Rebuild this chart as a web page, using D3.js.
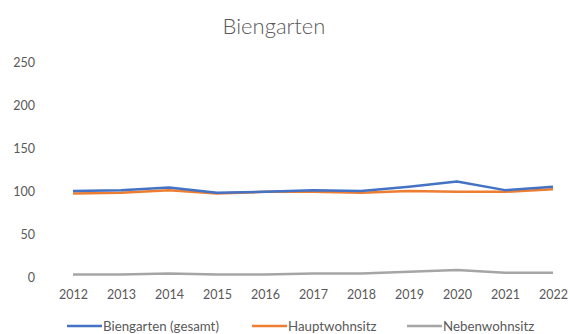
<!DOCTYPE html>
<html>
<head>
<meta charset="utf-8">
<script src="https://cdn.jsdelivr.net/npm/d3@7"></script>
<style>
  body { margin: 0; background: #fff; }
  text { font-family: Lato, "Open Sans", sans-serif; fill: #595959; }
</style>
</head>
<body>
<div id="chart"></div>
<script>
var years = [2012, 2013, 2014, 2015, 2016, 2017, 2018, 2019, 2020, 2021, 2022];
var gesamt = [100, 101, 104, 98, 99, 101, 100, 105, 111, 101, 105];
var haupt = [97, 98, 101, 97, 99, 99, 98, 100, 99, 99, 102];
var neben = [3, 3, 4, 3, 3, 4, 4, 6, 8, 5, 5];
var yTicks = [0, 50, 100, 150, 200, 250];
var seriesNames = ["Biengarten (gesamt)", "Hauptwohnsitz", "Nebenwohnsitz"];

var width = 570, height = 334;
var colors = ["#4472C4", "#ED7D31", "#A5A5A5"];
var series = [gesamt, haupt, neben];

var svg = d3.select("#chart").append("svg")
    .attr("width", width)
    .attr("height", height);

var x = d3.scalePoint().domain(years).range([73, 553]);
var y = d3.scaleLinear().domain([0, 250]).range([277, 62]);

svg.append("text")
    .attr("x", 274).attr("y", 34)
    .attr("text-anchor", "middle")
    .style("font-size", "22px")
    .style("font-weight", 300)
    .text("Biengarten");

// y axis labels only
var yAxis = svg.append("g")
    .attr("transform", "translate(41,0)")
    .call(d3.axisLeft(y).tickValues(yTicks).tickSize(0).tickPadding(6));
yAxis.select(".domain").remove();
yAxis.selectAll("text").style("font-size", "12.5px").attr("fill", "#595959");

var xAxis = svg.append("g")
    .attr("transform", "translate(0,288)")
    .call(d3.axisBottom(x).tickSize(0).tickPadding(2));
xAxis.select(".domain").remove();
xAxis.selectAll("text").style("font-size", "12.5px").attr("fill", "#595959");

var line = d3.line()
    .x(function(d, i) { return x(years[i]); })
    .y(function(d) { return y(d); });

// back to front
[2, 1, 0].forEach(function(k) {
  svg.append("path")
    .datum(series[k])
    .attr("fill", "none")
    .attr("stroke", colors[k])
    .attr("stroke-width", 2.5)
    .attr("stroke-linejoin", "round")
    .attr("d", line);
});

var legendX = [67, 252, 407];
var lg = svg.selectAll(".legend")
    .data(seriesNames)
  .enter().append("g")
    .attr("class", "legend")
    .attr("transform", function(d, i) { return "translate(" + legendX[i] + ",326)"; });
lg.append("line")
    .attr("x1", 0).attr("x2", 35)
    .attr("stroke", function(d, i) { return colors[i]; })
    .attr("stroke-width", 2.5);
lg.append("text")
    .attr("x", 36).attr("y", 4.5)
    .style("font-size", "13.3px")
    .text(function(d) { return d; });
</script>
</body>
</html>
